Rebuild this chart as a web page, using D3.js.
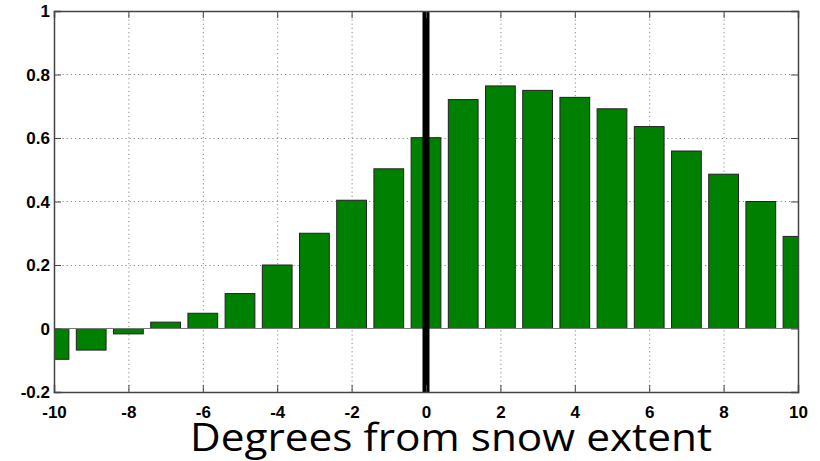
<!DOCTYPE html>
<html>
<head>
<meta charset="utf-8">
<script src="https://cdn.jsdelivr.net/npm/d3@7"></script>
<style>
  body { margin: 0; background: #fff; }
  svg { display: block; }
</style>
</head>
<body>
<svg width="820" height="461"></svg>
<script>
// degrees from snow extent
const degrees = [-10, -9, -8, -7, -6, -5, -4, -3, -2, -1, 0, 1, 2, 3, 4, 5, 6, 7, 8, 9, 10]
const values = [-0.097, -0.068, -0.017, 0.02, 0.048, 0.11, 0.20, 0.30, 0.404, 0.503, 0.601,
    0.721, 0.764, 0.75, 0.728, 0.692, 0.636, 0.559, 0.486, 0.40, 0.29]
const xTicks = [-10, -8, -6, -4, -2, 0, 2, 4, 6, 8, 10]
const yTicks = [-0.2, 0, 0.2, 0.4, 0.6, 0.8, 1]

const margin = { left: 54, right: 22, top: 11, bottom: 69 }
const width = 820
const height = 461

const svg = d3.select('svg')

const x = d3.scaleLinear().domain([-10, 10]).range([margin.left, width - margin.right])
const y = d3.scaleLinear().domain([-0.2, 1]).range([height - margin.bottom, margin.top])
const barW = x(0.8) - x(0)

svg.append('clipPath').attr('id', 'plot')
    .append('rect')
    .attr('x', x(-10)).attr('y', y(1))
    .attr('width', x(10) - x(-10)).attr('height', y(-0.2) - y(1))

// grid
const grid = svg.append('g').attr('stroke', '#888').attr('stroke-dasharray', '1.2,3').attr('stroke-width', 1)
grid.selectAll('.gx').data(xTicks.slice(1, -1)).enter().append('line')
    .attr('x1', d => x(d) + 0.5).attr('x2', d => x(d) + 0.5)
    .attr('y1', y(1)).attr('y2', y(-0.2))
grid.selectAll('.gy').data(yTicks.slice(1, -1)).enter().append('line')
    .attr('y1', d => Math.round(y(d)) + 0.5).attr('y2', d => Math.round(y(d)) + 0.5)
    .attr('x1', x(-10)).attr('x2', x(10))

const plot = svg.append('g').attr('clip-path', 'url(#plot)')

plot.selectAll('rect.bar')
    .data(degrees.map((d, i) => ({ deg: d, val: values[i] })))
    .enter().append('rect')
    .attr('class', 'bar')
    .attr('x', d => x(d.deg) - barW / 2)
    .attr('width', barW)
    .attr('y', d => y(Math.max(0, d.val)))
    .attr('height', d => Math.abs(y(d.val) - y(0)))
    .attr('fill', '#008000')
    .attr('stroke', '#222')
    .attr('stroke-width', 1)

// baseline
plot.append('line')
    .attr('x1', x(-10)).attr('x2', x(10))
    .attr('y1', y(0)).attr('y2', y(0))
    .attr('stroke', '#777').attr('stroke-width', 1)

// black line at snow extent
plot.append('line')
    .attr('x1', x(0)).attr('x2', x(0))
    .attr('y1', y(1)).attr('y2', y(-0.2))
    .attr('stroke', '#000').attr('stroke-width', 7)

// axes
const xAxis = svg.append('g')
    .attr('transform', `translate(0,${y(-0.2)})`)
    .call(d3.axisBottom(x).tickValues(xTicks).tickSize(-7).tickFormat(d => String(d)))
const xTop = svg.append('g')
    .attr('transform', `translate(0,${y(1)})`)
    .call(d3.axisTop(x).tickValues(xTicks).tickSize(-7).tickFormat(''))
const yAxis = svg.append('g')
    .attr('transform', `translate(${x(-10)},0)`)
    .call(d3.axisLeft(y).tickValues(yTicks).tickSize(-7).tickPadding(4).tickFormat(d => String(+d.toFixed(1))))
const yRight = svg.append('g')
    .attr('transform', `translate(${x(10)},0)`)
    .call(d3.axisRight(y).tickValues(yTicks).tickSize(-7).tickFormat(''))

svg.selectAll('.domain').attr('stroke', '#444').attr('stroke-width', 1.5)
svg.selectAll('.tick line').attr('stroke', '#444')
svg.selectAll('.tick text')
    .attr('font-family', '"Liberation Sans", Arial, sans-serif')
    .attr('font-weight', 'bold')
    .attr('font-size', 17)
    .attr('fill', '#000')
xAxis.selectAll('.tick text').attr('y', 14).attr('dy', '0.71em')
yAxis.selectAll('.tick text').attr('dy', '0.34em')

svg.append('text')
    .attr('x', 190)
    .attr('y', 451)
    .attr('font-family', '"Open Sans", "Noto Sans", sans-serif')
    .attr('font-size', 38)
    .attr('textLength', 522)
    .attr('lengthAdjust', 'spacingAndGlyphs')
    .attr('fill', '#000')
    .text('Degrees from snow extent')
</script>
</body>
</html>
